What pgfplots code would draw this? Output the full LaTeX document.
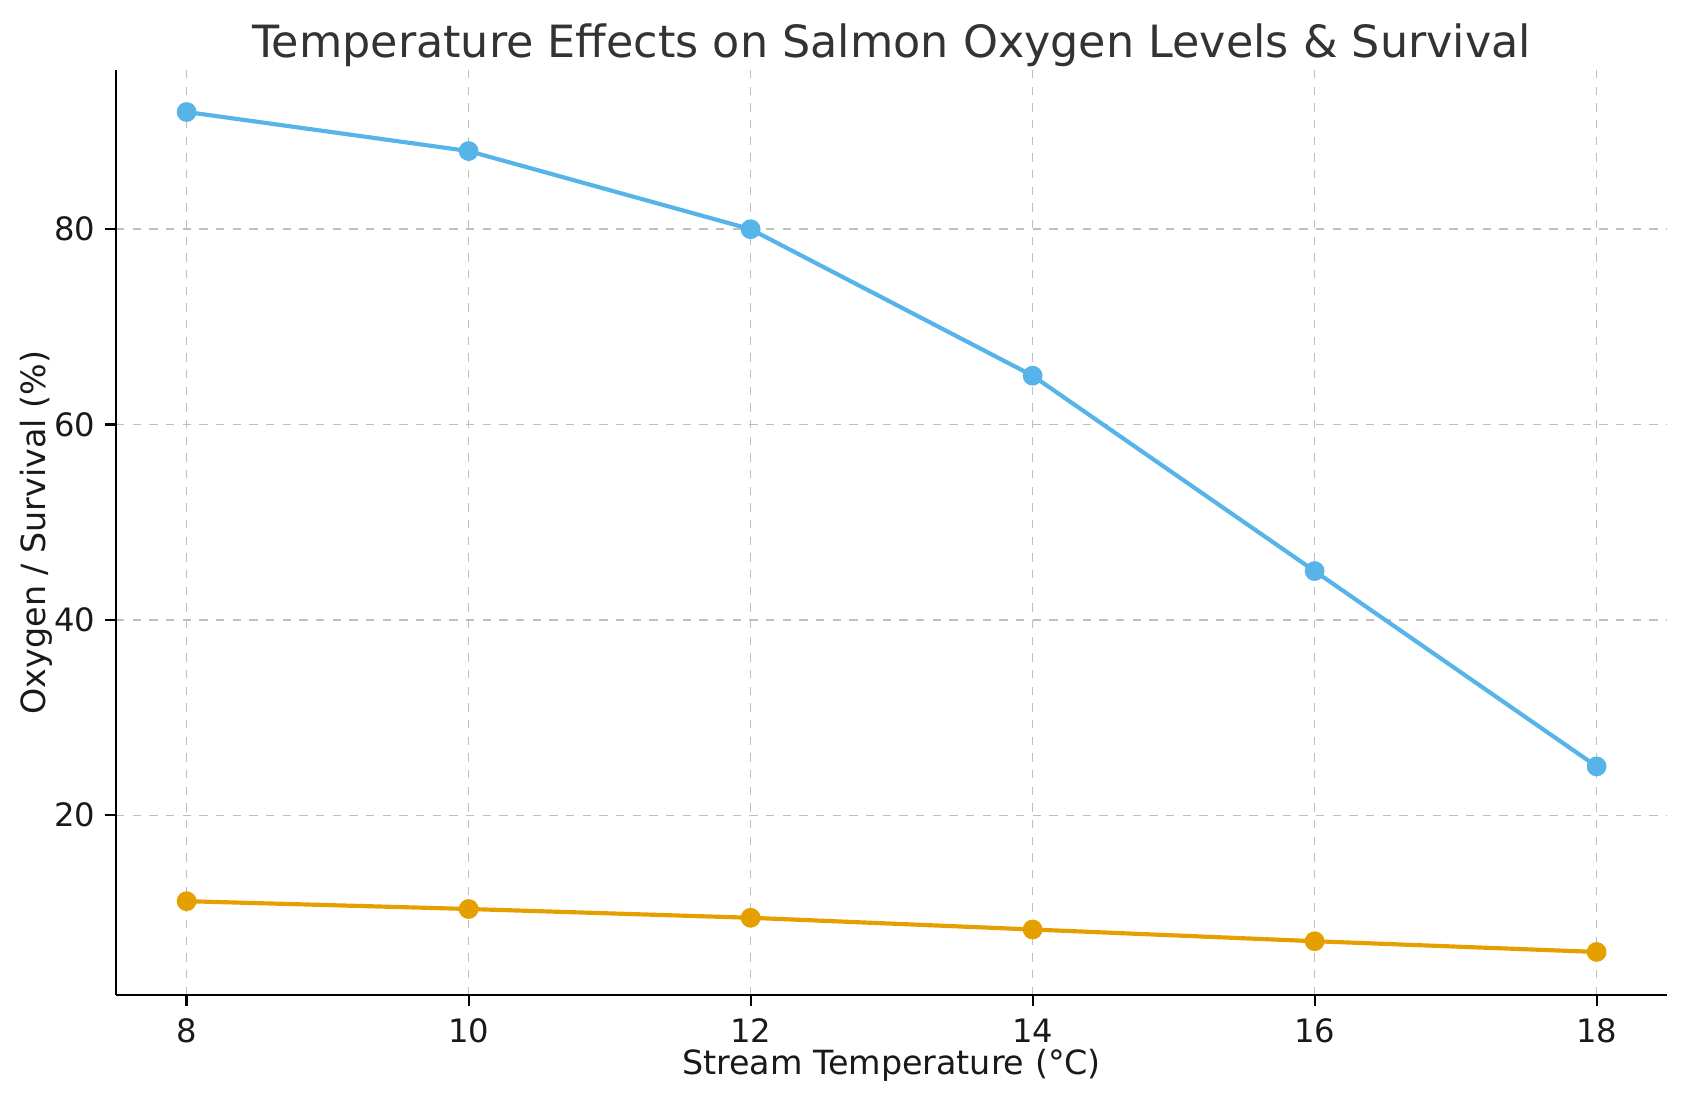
\documentclass[border=0pt]{standalone}
\usepackage{pgfplots}
\pgfplotsset{compat=1.18}
\usepackage{fontspec}
\setmainfont{DejaVu Sans}
\definecolor{cblue}{HTML}{56B4E9}
\definecolor{corange}{HTML}{E69F00}
\definecolor{titlegray}{HTML}{333333}
\begin{document}
\begin{tikzpicture}
\useasboundingbox (-41.8pt,-38.2pt) rectangle (565.2pt,358.2pt);
\begin{axis}[
  at={(0,0)}, anchor=south west,
  scale only axis,
  width=558.4pt, height=333pt,
  xmin=7.5, xmax=18.5,
  ymin=1.6, ymax=96.3,
  xtick={8,10,12,14,16,18},
  ytick={20,40,60,80},
  axis x line*=bottom, axis y line*=left,
  axis line style={-, black, line width=0.8pt},
  tick align=outside,
  major tick length=4pt,
  tick style={black, line width=0.8pt},
  grid=major,
  major grid style={dashed, black!25, line width=0.5pt},
  /pgf/number format/assume math mode=true,
  ticklabel style={font=\fontsize{11.6}{13}\selectfont, text=black!90},
  xticklabel style={yshift=-1pt},
  title={Temperature Effects on Salmon Oxygen Levels \& Survival},
  title style={font=\fontsize{16}{19}\selectfont, text=titlegray, at={(0.5,1)}, anchor=south, yshift=-8.3pt},
  xlabel={Stream Temperature (°C)},
  ylabel={Oxygen / Survival (\%)},
  label style={font=\fontsize{12}{14}\selectfont, text=black!90},
  xlabel style={yshift=4.7pt},
  ylabel style={yshift=-6.4pt},
]
\addplot[cblue, line width=1.5pt, mark=*, mark size=2.8pt, mark options={solid}]
  coordinates {(8,92) (10,88) (12,80) (14,65) (16,45) (18,25)};
\addplot[corange, line width=1.5pt, mark=*, mark size=2.8pt, mark options={solid}]
  coordinates {(8,11.2) (10,10.4) (12,9.5) (14,8.3) (16,7.1) (18,6.0)};
\end{axis}
\end{tikzpicture}
\end{document}
